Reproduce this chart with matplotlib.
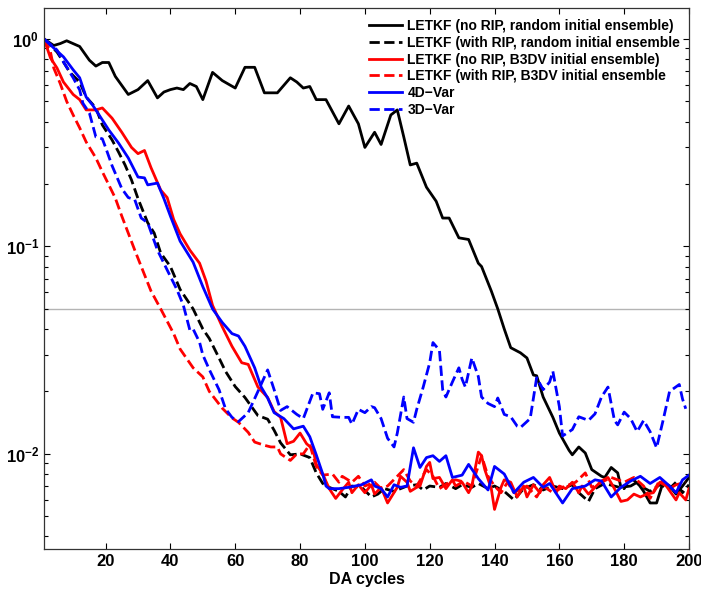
import matplotlib
matplotlib.use('Agg')
import matplotlib.pyplot as plt
from matplotlib.ticker import LogLocator, NullFormatter

plt.rcParams['font.family'] = ['Liberation Sans', 'DejaVu Sans']
plt.rcParams['font.weight'] = 'bold'
plt.rcParams['mathtext.fontset'] = 'custom'
plt.rcParams['mathtext.rm'] = 'Liberation Sans:bold'
plt.rcParams['mathtext.bf'] = 'Liberation Sans:bold'

# LETKF, no RIP, random initial ensemble (black solid)
letkf_rand_x = [1, 4, 6, 8, 12, 15, 17, 19, 21, 23, 27, 30, 33, 36, 38, 40, 42, 44, 46, 48,
                50, 53, 56, 60, 63, 66, 69, 73, 77, 79, 81, 83, 85, 88, 92, 95, 98, 100, 103, 105,
                108, 110, 112, 114, 116, 119, 122, 124, 126, 129, 132, 135, 136, 139, 141, 143, 145, 148, 150, 152,
                153, 155, 158, 160, 163, 164, 166, 168, 170, 173, 174, 176, 178, 179, 182, 184, 186, 188, 190, 192,
                194, 196, 198, 200]
letkf_rand_y = [1.0, 0.93, 0.95, 0.98, 0.92, 0.79, 0.74, 0.77, 0.77, 0.66,
                0.54, 0.57, 0.63, 0.52, 0.555, 0.57, 0.58, 0.57, 0.61, 0.59,
                0.51, 0.69, 0.63, 0.58, 0.73, 0.73, 0.55, 0.55, 0.65, 0.62,
                0.58, 0.59, 0.51, 0.51, 0.39, 0.475, 0.39, 0.30, 0.355, 0.31,
                0.43, 0.455, 0.337, 0.247, 0.252, 0.193, 0.165, 0.137, 0.137, 0.11,
                0.108, 0.083, 0.080, 0.061, 0.050, 0.040, 0.0325, 0.0307, 0.029, 0.024,
                0.0238, 0.0188, 0.015, 0.0126, 0.0104, 0.0099, 0.0108, 0.0101, 0.0084, 0.0078,
                0.0077, 0.0086, 0.0081, 0.0069, 0.0070, 0.0073, 0.0066, 0.0058, 0.0058, 0.0073,
                0.0070, 0.0064, 0.0070, 0.0077]

# LETKF, with RIP, random initial ensemble (black dashed)
letkf_rip_rand_x = [1, 5, 7, 9, 12, 14, 17, 19, 22, 24, 26, 28, 30, 33, 35, 37, 40, 43, 47, 50,
                    52, 55, 57, 60, 63, 67, 70, 72, 74, 77, 80, 83, 85, 87, 89, 92, 94, 96, 99, 102,
                    104, 106, 109, 111, 113, 116, 118, 120, 123, 125, 128, 130, 133, 135, 138, 140, 143, 146, 149, 152,
                    155, 158, 161, 164, 166, 169, 171, 174, 177, 180, 182, 185, 188, 191, 194, 196, 198, 200]
letkf_rip_rand_y = [1.0, 0.865, 0.775, 0.69, 0.62, 0.525, 0.465, 0.385, 0.326, 0.285,
                    0.247, 0.209, 0.170, 0.130, 0.116, 0.093, 0.080, 0.062, 0.050, 0.040,
                    0.036, 0.029, 0.025, 0.0211, 0.0187, 0.0153, 0.0147, 0.013, 0.0113, 0.0099,
                    0.0100, 0.0096, 0.0081, 0.0072, 0.0069, 0.0066, 0.0062, 0.0070, 0.0069, 0.0062,
                    0.0064, 0.0068, 0.0066, 0.0068, 0.0070, 0.0071, 0.0067, 0.0070, 0.0069, 0.0072,
                    0.0068, 0.0071, 0.0069, 0.0072, 0.0068, 0.0070, 0.0066, 0.0060, 0.0068, 0.0071,
                    0.0067, 0.0070, 0.0068, 0.0071, 0.0065, 0.0059, 0.0068, 0.0072, 0.0070, 0.0068,
                    0.0077, 0.0070, 0.0066, 0.0071, 0.0068, 0.0073, 0.0065, 0.0071]

# LETKF, no RIP, B3DV initial ensemble (red solid)
letkf_b3dv_x = [1, 3, 5, 7, 10, 12, 14, 17, 19, 22, 25, 28, 30, 32, 34, 37, 39, 41, 43, 46,
                49, 51, 53, 56, 59, 62, 64, 67, 70, 72, 74, 76, 78, 80, 82, 84, 85, 87, 89, 91,
                93, 95, 96, 98, 100, 102, 103, 105, 107, 110, 111, 113, 114, 116, 117, 119, 120, 121, 123, 125,
                127, 128, 130, 132, 133, 135, 136, 137, 139, 140, 142, 143, 145, 147, 149, 150, 152, 154, 155, 157,
                159, 160, 162, 164, 166, 167, 169, 171, 173, 175, 177, 179, 181, 183, 185, 187, 189, 191, 193, 196,
                197, 199, 200]
letkf_b3dv_y = [1.0, 0.81, 0.725, 0.62, 0.54, 0.51, 0.455, 0.455, 0.465, 0.415,
                0.355, 0.30, 0.28, 0.29, 0.24, 0.187, 0.172, 0.135, 0.115, 0.096,
                0.083, 0.068, 0.052, 0.041, 0.033, 0.0275, 0.027, 0.021, 0.0187, 0.016,
                0.015, 0.0112, 0.0115, 0.0126, 0.0112, 0.0105, 0.0089, 0.0080, 0.0068, 0.0061,
                0.0067, 0.0073, 0.0065, 0.0071, 0.0065, 0.0071, 0.0064, 0.0069, 0.0058, 0.0069,
                0.0078, 0.0073, 0.0066, 0.0069, 0.0070, 0.0087, 0.0091, 0.0076, 0.0077, 0.0068,
                0.0075, 0.0070, 0.0073, 0.0065, 0.0070, 0.0102, 0.0098, 0.0084, 0.0068, 0.0054,
                0.0069, 0.0075, 0.0073, 0.0062, 0.0070, 0.0062, 0.0071, 0.0065, 0.0071, 0.0077,
                0.0065, 0.0070, 0.0068, 0.0073, 0.0065, 0.0070, 0.0064, 0.0069, 0.0074, 0.0077,
                0.0068, 0.0059, 0.0060, 0.0064, 0.0062, 0.0064, 0.0065, 0.0073, 0.0070, 0.0060,
                0.0065, 0.0060, 0.0068]

# LETKF, with RIP, B3DV initial ensemble (red dashed)
letkf_rip_b3dv_x = [1, 3, 4, 6, 8, 10, 12, 14, 17, 19, 21, 23, 25, 29, 31, 34, 37, 41, 43, 47,
                    50, 52, 56, 59, 61, 64, 66, 69, 71, 73, 74, 77, 79, 81, 83, 85, 87, 90, 92, 93,
                    96, 98, 100, 103, 105, 107, 110, 112, 114, 116, 119, 121, 123, 126, 128, 131, 133, 136, 138, 140,
                    142, 144, 146, 150, 153, 155, 158, 161, 165, 168, 170, 173, 176, 180, 183, 186, 188, 191, 194, 196,
                    199]
letkf_rip_b3dv_y = [1.0, 0.865, 0.725, 0.61, 0.50, 0.43, 0.373, 0.319, 0.267, 0.229,
                    0.198, 0.171, 0.140, 0.096, 0.080, 0.061, 0.050, 0.038, 0.032, 0.026,
                    0.0235, 0.0200, 0.0166, 0.0149, 0.0142, 0.0127, 0.0114, 0.0110, 0.0108, 0.0108,
                    0.0100, 0.0093, 0.0100, 0.0100, 0.0111, 0.0087, 0.0079, 0.0080, 0.0073, 0.0078,
                    0.0073, 0.0078, 0.0070, 0.0073, 0.0068, 0.0070, 0.0078, 0.0084, 0.0074, 0.0070,
                    0.0084, 0.0078, 0.0068, 0.0073, 0.0075, 0.0073, 0.0070, 0.0098, 0.0078, 0.0070,
                    0.0065, 0.0073, 0.0065, 0.0070, 0.0062, 0.0070, 0.0065, 0.0069, 0.0073, 0.0081,
                    0.0069, 0.0073, 0.0077, 0.0073, 0.0077, 0.0070, 0.0061, 0.0075, 0.0068, 0.0071,
                    0.0073]

# 4D-Var (blue solid)
var4d_x = [1, 4, 7, 10, 12, 14, 16, 18, 21, 24, 27, 30, 32, 33, 36, 38, 40, 43, 47, 50,
           53, 56, 59, 61, 63, 66, 68, 70, 72, 75, 78, 81, 83, 85, 87, 88, 89, 92, 95, 97,
           99, 102, 103, 105, 107, 109, 111, 113, 115, 117, 119, 121, 123, 125, 127, 130, 132, 135, 138, 140,
           143, 146, 149, 152, 155, 157, 161, 164, 168, 171, 173, 176, 179, 182, 185, 188, 191, 194, 196, 198,
           200]
var4d_y = [1.0, 0.905, 0.82, 0.71, 0.65, 0.525, 0.48, 0.43, 0.364, 0.315,
           0.267, 0.216, 0.214, 0.198, 0.202, 0.170, 0.140, 0.106, 0.084, 0.064,
           0.050, 0.043, 0.038, 0.037, 0.033, 0.026, 0.021, 0.0186, 0.0158, 0.0148,
           0.0132, 0.0136, 0.0121, 0.0099, 0.0080, 0.0070, 0.0068, 0.0068, 0.0069, 0.0070,
           0.0071, 0.0075, 0.0070, 0.0068, 0.0062, 0.0071, 0.0069, 0.0070, 0.0107, 0.0086,
           0.0096, 0.0098, 0.0092, 0.0098, 0.0077, 0.0079, 0.0089, 0.0076, 0.0067, 0.0087,
           0.0080, 0.0065, 0.0073, 0.0077, 0.0069, 0.0072, 0.0058, 0.0068, 0.0070, 0.0075,
           0.0074, 0.0062, 0.0069, 0.0074, 0.0078, 0.0072, 0.0077, 0.0070, 0.0065, 0.0075,
           0.0079]

# 3D-Var (blue dashed)
var3d_x = [1, 5, 7, 10, 12, 13, 15, 17, 19, 20, 22, 25, 27, 29, 31, 33, 36, 39, 42, 44,
           46, 47, 49, 50, 52, 55, 57, 59, 61, 64, 67, 70, 72, 74, 76, 79, 81, 84, 86, 87,
           89, 90, 93, 95, 96, 98, 100, 102, 103, 105, 107, 109, 110, 112, 113, 115, 116, 118, 120, 121,
           123, 124, 125, 127, 129, 130, 131, 133, 135, 136, 138, 140, 141, 143, 145, 147, 148, 151, 153, 155,
           157, 158, 160, 161, 164, 166, 169, 171, 173, 175, 177, 178, 180, 182, 184, 186, 188, 190, 192, 194,
           197, 198, 199]
var3d_y = [1.0, 0.885, 0.775, 0.65, 0.568, 0.49, 0.44, 0.337, 0.330, 0.30,
           0.245, 0.19, 0.172, 0.168, 0.137, 0.130, 0.096, 0.077, 0.062, 0.052,
           0.0395, 0.040, 0.0345, 0.030, 0.0255, 0.0204, 0.0165, 0.0150, 0.0143, 0.0158,
           0.0200, 0.0254, 0.0204, 0.0162, 0.0169, 0.0155, 0.0148, 0.0197, 0.0195, 0.0164,
           0.0197, 0.0151, 0.0150, 0.0150, 0.0139, 0.0164, 0.0158, 0.0169, 0.0167, 0.0148,
           0.0119, 0.0108, 0.0126, 0.0188, 0.0148, 0.0142, 0.0164, 0.0210, 0.0275, 0.0344,
           0.0316, 0.0204, 0.0188, 0.0222, 0.0260, 0.0229, 0.0210, 0.0290, 0.0236, 0.0188,
           0.0175, 0.0169, 0.0186, 0.0155, 0.0151, 0.0136, 0.0134, 0.0148, 0.0233, 0.0204,
           0.0222, 0.0250, 0.0169, 0.0122, 0.0131, 0.0151, 0.0145, 0.0156, 0.0188, 0.0210,
           0.0145, 0.0138, 0.0159, 0.0148, 0.0128, 0.0145, 0.0128, 0.0107, 0.0145, 0.0200,
           0.0216, 0.0184, 0.0165]

labels = ['LETKF (no RIP, random initial ensemble)',
          'LETKF (with RIP, random initial ensemble',
          'LETKF (no RIP, B3DV initial ensemble)',
          'LETKF (with RIP, B3DV initial ensemble',
          '4D\u2212Var',
          '3D\u2212Var']
threshold = 0.05

fig = plt.figure(figsize=(7.01, 5.89), dpi=100)
ax = fig.add_axes([44/701, 40/589, 645/701, 541/589])

lw = 2.0
ax.axhline(threshold, color='#b4b4b4', lw=1.0, zorder=1)
ax.plot(letkf_rand_x, letkf_rand_y, color='black', lw=lw, label=labels[0])
ax.plot(letkf_rip_rand_x, letkf_rip_rand_y, color='black', lw=lw, ls='--', label=labels[1])
ax.plot(letkf_b3dv_x, letkf_b3dv_y, color='red', lw=lw, label=labels[2])
ax.plot(letkf_rip_b3dv_x, letkf_rip_b3dv_y, color='red', lw=lw, ls='--', label=labels[3])
ax.plot(var4d_x, var4d_y, color='blue', lw=lw, label=labels[4])
ax.plot(var3d_x, var3d_y, color='blue', lw=lw, ls='--', label=labels[5])

ax.set_yscale('log')
ax.set_xlim(1, 200)
ax.set_ylim(0.00348, 1.41)
ax.set_xticks([20, 40, 60, 80, 100, 120, 140, 160, 180, 200])
ax.set_yticks([1e-2, 1e-1, 1e0])
ax.set_yticklabels([r'$\mathbf{10^{-2}}$', r'$\mathbf{10^{-1}}$', r'$\mathbf{10^{0}}$'])
ax.yaxis.set_minor_locator(LogLocator(base=10, subs=range(2, 10)))
ax.yaxis.set_minor_formatter(NullFormatter())
ax.tick_params(which='both', direction='in', top=True, right=True, labelsize=12, width=0.8)
ax.tick_params(which='major', length=4)
ax.tick_params(which='minor', length=3)
for t in ax.get_xticklabels():
    t.set_fontweight('bold')
for s in ax.spines.values():
    s.set_linewidth(0.9)
    s.set_color('#333333')

ax.set_xlabel('DA cycles', fontsize=11.5, fontweight='bold', labelpad=2)

ax.legend(loc='upper left', bbox_to_anchor=(369/701, 1 - 19/589), bbox_transform=fig.transFigure,
          frameon=False, handlelength=2.4, handletextpad=0.36, labelspacing=0.2,
          borderpad=0, borderaxespad=0, prop={'weight': 'bold', 'size': 10})

fig.savefig('out.png', dpi=100)
